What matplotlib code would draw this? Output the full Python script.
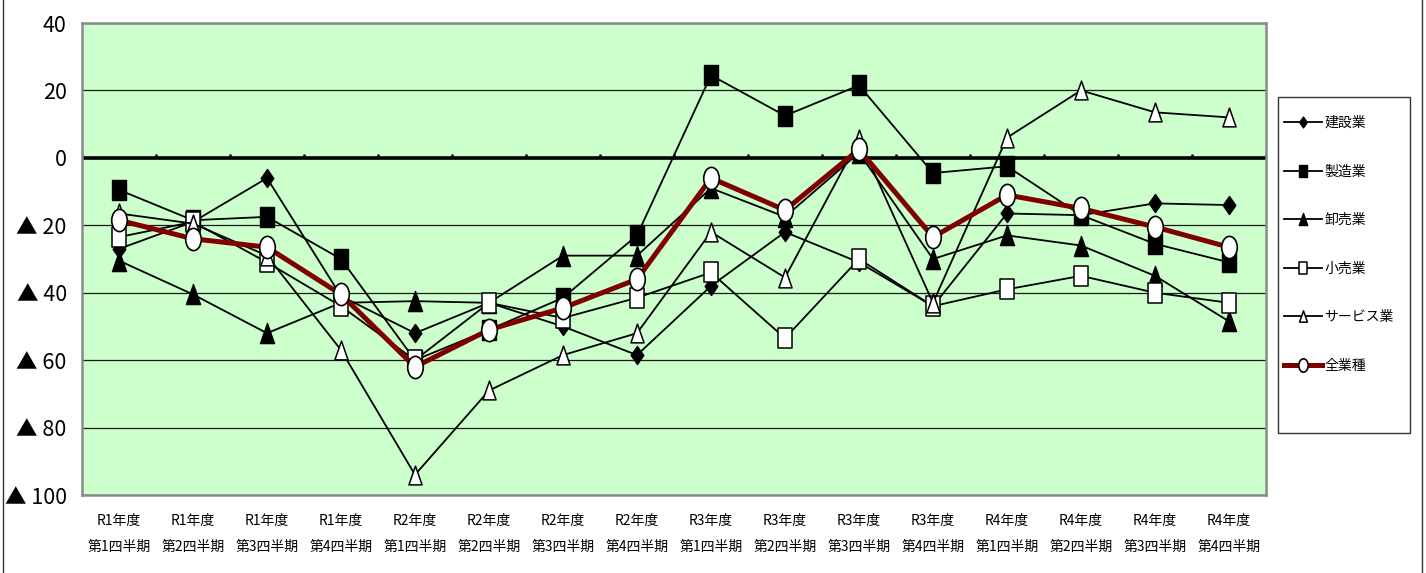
import matplotlib
matplotlib.use("Agg")
import matplotlib.pyplot as plt
import numpy as np
from matplotlib.path import Path
from matplotlib.lines import Line2D
from matplotlib.patches import Rectangle
from matplotlib.ticker import FixedLocator, FuncFormatter

# ---------------- data ----------------
categories = [
    "R1年度\n第1四半期", "R1年度\n第2四半期", "R1年度\n第3四半期", "R1年度\n第4四半期",
    "R2年度\n第1四半期", "R2年度\n第2四半期", "R2年度\n第3四半期", "R2年度\n第4四半期",
    "R3年度\n第1四半期", "R3年度\n第2四半期", "R3年度\n第3四半期", "R3年度\n第4四半期",
    "R4年度\n第1四半期", "R4年度\n第2四半期", "R4年度\n第3四半期", "R4年度\n第4四半期",
]
series_names = ["建設業", "製造業", "卸売業", "小売業", "サービス業", "全業種"]

kensetsu = [-27, -19, -6, -41, -52, -43, -50, -58.5, -38, -22, -31, -44, -16.5, -17, -13.5, -14]
seizou   = [-9.5, -18.5, -17.5, -30, -60, -51, -41.5, -23, 24.5, 12.5, 21.5, -4.5, -2.5, -17, -25.5, -31]
oroshi   = [-30.5, -40.5, -52, -43, -42.5, -43, -29, -29, -9, -17.5, 1.5, -30, -23, -26, -35, -48.5]
kouri    = [-23.5, -19, -31, -44, -60, -43, -47.5, -41.5, -34, -53.5, -30, -44, -39, -35, -40, -43]
service  = [-16.5, -19.5, -29, -57, -94, -69, -58.5, -52, -22, -35.5, 5.5, -43, 6, 20, 13.5, 12]
zengyou  = [-18.5, -24, -26.5, -40.5, -62, -51, -44.5, -36, -6, -15.5, 2.5, -23.5, -11, -15, -20.5, -26.5]

yticks = [40, 20, 0, -20, -40, -60, -80, -100]

# ---------------- markers (vertically stretched like the original) ----------------
SX = 0.7  # width / height ratio
def mk(verts):
    v = np.array(verts, float)
    v[:, 0] *= SX
    codes = [Path.MOVETO] + [Path.LINETO] * (len(v) - 1) + [Path.CLOSEPOLY]
    v = np.vstack([v, v[:1]])
    return Path(v, codes)

diamond = mk([(0, -1), (1, 0), (0, 1), (-1, 0)])
square = mk([(-1, -1), (1, -1), (1, 1), (-1, 1)])
triangle = mk([(-1, -1), (1, -1), (0, 1)])
uc = Path.unit_circle()
ellipse = Path(uc.vertices * np.array([SX, 1.0]), uc.codes)

# ---------------- figure ----------------
W, H = 1426, 573
fig = plt.figure(figsize=(W / 100, H / 100), dpi=100)
L, R, T, B = 82, 1266, 23, 495
ax = fig.add_axes([L / W, 1 - B / H, (R - L) / W, (B - T) / H])
ax.set_facecolor("#CCFFCC")
ax.set_xlim(-0.5, len(categories) - 0.5)
ax.set_ylim(-100, 40)

for s in ax.spines.values():
    s.set_color("#8a8a8a")
    s.set_linewidth(1.8)

# grid
ax.yaxis.set_major_locator(FixedLocator(yticks))
ax.yaxis.grid(True, color="#1a1a1a", lw=0.9, zorder=0)
ax.set_axisbelow(True)

# zero line with small tick marks at category boundaries
ax.axhline(0, color="black", lw=2.6, zorder=1.5)
ax.vlines(np.arange(len(categories) + 1) - 0.5, 0, 1.1, color="black", lw=1.8, zorder=1.5)

x = np.arange(len(categories))
lw_b = 1.3
ms = 14.5
ax.plot(x, kensetsu, color="black", lw=lw_b, marker=diamond, ms=13, mfc="black", mec="black", label=series_names[0], zorder=2)
ax.plot(x, seizou, color="black", lw=lw_b, marker=square, ms=ms, mfc="black", mec="black", label=series_names[1], zorder=2)
ax.plot(x, oroshi, color="black", lw=lw_b, marker=triangle, ms=ms, mfc="black", mec="black", label=series_names[2], zorder=2)
ax.plot(x, kouri, color="black", lw=lw_b, marker=square, ms=ms, mfc="white", mec="black", mew=1.1, label=series_names[3], zorder=2)
ax.plot(x, service, color="black", lw=lw_b, marker=triangle, ms=13.5, mfc="white", mec="black", mew=1.1, label=series_names[4], zorder=2)
ax.plot(x, zengyou, color="#800000", lw=3.6, marker=ellipse, ms=16, mfc="white", mec="black", mew=1.2, label=series_names[5], zorder=3)

# y tick labels
def yfmt(v, pos):
    v = int(round(v))
    return f"▲ {abs(v)}" if v < 0 else f"{v}"
ax.yaxis.set_major_formatter(FuncFormatter(yfmt))
ax.tick_params(axis="y", length=0, pad=11)
for lab in ax.get_yticklabels():
    lab.set_fontfamily(["Noto Sans CJK JP", "DejaVu Sans"])
    lab.set_fontsize(15.5)

# x tick labels
ax.set_xticks(x)
ax.set_xticklabels(categories, fontfamily=["Noto Sans CJK JP", "DejaVu Sans"], fontsize=10, linespacing=2.0)
ax.tick_params(axis="x", length=0, pad=14)

# legend (frameless, box drawn separately)
leg = fig.legend(
    loc="upper left",
    bbox_to_anchor=(1284 / W, 1 - 116 / H),
    bbox_transform=fig.transFigure,
    frameon=False,
    prop={"family": ["Noto Sans CJK JP", "DejaVu Sans"], "size": 10},
    markerscale=0.6,
    handlelength=2.75,
    handletextpad=0.15,
    labelspacing=2.49,
    borderpad=0,
    borderaxespad=0,
)
fig.add_artist(Rectangle((1278 / W, 1 - 433 / H), (1410 - 1278) / W, (433 - 97) / H,
                         transform=fig.transFigure, fill=False, edgecolor="#333333", lw=1.0))

# outer border lines of the picture
fig.add_artist(Line2D([2.5 / W, 2.5 / W], [0, 1], transform=fig.transFigure, color="#333333", lw=1.0))
fig.add_artist(Line2D([1421.5 / W, 1421.5 / W], [0, 1], transform=fig.transFigure, color="#333333", lw=1.0))

fig.savefig("out.png", dpi=100)
